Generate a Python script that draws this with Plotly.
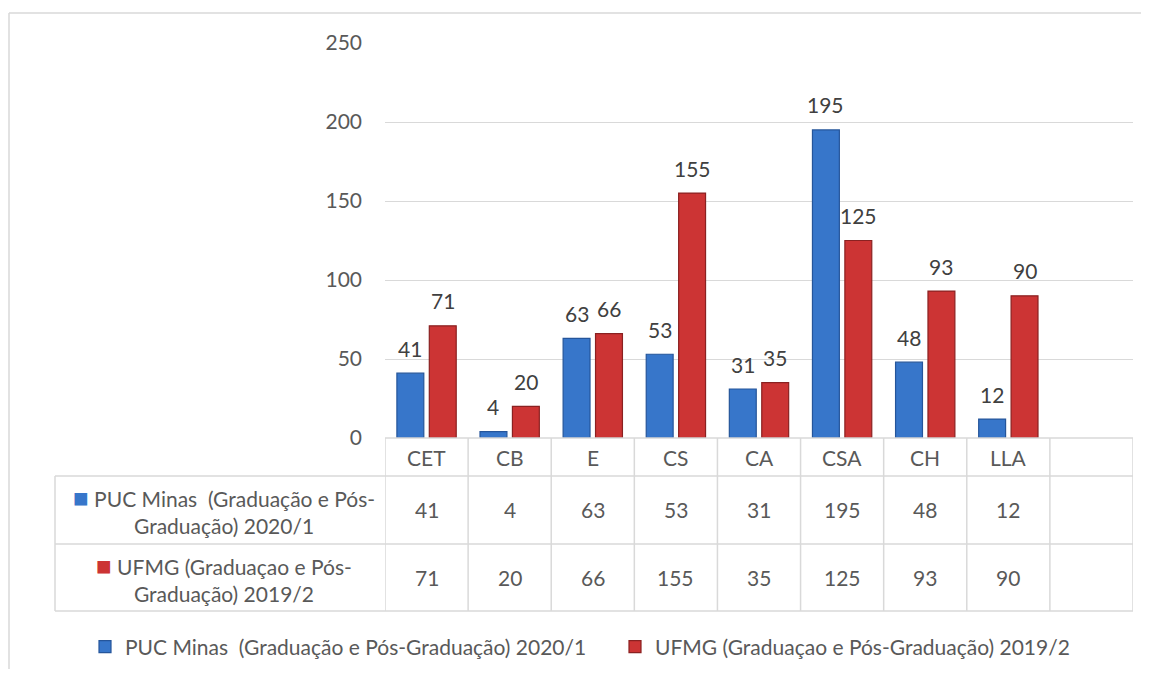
import plotly.graph_objects as go

categories = ["CET", "CB", "E", "CS", "CA", "CSA", "CH", "LLA"]
puc_values = [41, 4, 63, 53, 31, 195, 48, 12]
ufmg_values = [71, 20, 66, 155, 35, 125, 93, 90]
series_names = ["PUC Minas\u00a0 (Graduação e Pós-Graduação) 2020/1",
                "UFMG (Graduaçao e Pós-Graduação) 2019/2"]
table_labels = ["PUC Minas\u00a0 (Graduação e Pós-<br>Graduação) 2020/1",
                "UFMG (Graduaçao e Pós-<br>Graduação) 2019/2"]
y_ticks = [0, 50, 100, 150, 200, 250]

# page has an 8px body margin: figure is sized to fit the window exactly
OFF = 8
W, H = 1149 - 2 * OFF, 677 - 2 * OFF
L = 385 - OFF
T = 43 - OFF
PW = 748
PH = 395
R = W - L - PW
B = H - T - PH
NSLOT = len(categories) + 1

def px_x(p):
    return (p - OFF - L) / PW

def px_y(p):
    return (T + PH - (p - OFF)) / PH

def cx(p):
    return (p - OFF) / W

def cy(p):
    return (H - (p - OFF)) / H

FONT = "Lato, Open Sans, sans-serif"
FS = 21
TXT = "#595959"
GRID = "#D9D9D9"
BLUE = "#3776CA"
BLUE_EDGE = "#25559A"
RED = "#CC3434"
RED_EDGE = "#8A2121"

bargap = 0.22
bargroupgap = 0.17

fig = go.Figure()
xs = list(range(len(categories)))
fig.add_trace(go.Bar(x=xs, y=puc_values, name=series_names[0], legend="legend",
                     marker=dict(color=BLUE, line=dict(color=BLUE_EDGE, width=1.2))))
fig.add_trace(go.Bar(x=xs, y=ufmg_values, name=series_names[1], legend="legend2",
                     marker=dict(color=RED, line=dict(color=RED_EDGE, width=1.2))))

slot = PW / NSLOT
shift = slot * (1 - bargap) / 4
ann = []
for i, (a, b) in enumerate(zip(puc_values, ufmg_values)):
    ann.append(dict(x=i, y=a, xref="x", yref="y", text=str(a), showarrow=False,
                    xshift=-shift, yshift=25, yanchor="middle",
                    font=dict(family=FONT, size=FS, color="#404040")))
    ann.append(dict(x=i, y=b, xref="x", yref="y", text=str(b), showarrow=False,
                    xshift=shift, yshift=25, yanchor="middle",
                    font=dict(family=FONT, size=FS, color="#404040")))
    ann.append(dict(x=i, y=px_y(457), xref="x", yref="paper", text=categories[i],
                    showarrow=False, yanchor="middle",
                    font=dict(family=FONT, size=FS, color=TXT)))
    ann.append(dict(x=i, y=px_y(509), xref="x", yref="paper", text=str(a),
                    showarrow=False, yanchor="middle",
                    font=dict(family=FONT, size=FS, color=TXT)))
    ann.append(dict(x=i, y=px_y(577), xref="x", yref="paper", text=str(b),
                    showarrow=False, yanchor="middle",
                    font=dict(family=FONT, size=FS, color=TXT)))

for lbl, col, yc in [(table_labels[0], BLUE, 509), (table_labels[1], RED, 577)]:
    ann.append(dict(x=px_x(224), y=px_y(yc), xref="paper", yref="paper",
                    text=f'<span style="color:{col};font-size:26px">■</span> {lbl}',
                    showarrow=False, xanchor="center", yanchor="middle", align="center",
                    font=dict(family=FONT, size=FS, color=TXT)))

shapes = []
line = dict(color=GRID, width=1.5)
shapes.append(dict(type="line", xref="paper", yref="paper", x0=0, x1=1,
                   y0=px_y(438), y1=px_y(438), line=line))
for yy in [476, 544, 611]:
    shapes.append(dict(type="line", xref="paper", yref="paper", x0=px_x(55), x1=1,
                       y0=px_y(yy), y1=px_y(yy), line=line))
for k in range(NSLOT + 1):
    shapes.append(dict(type="line", xref="x", yref="paper", x0=k - 0.5, x1=k - 0.5,
                       y0=px_y(438), y1=px_y(611), line=line))
shapes.append(dict(type="line", xref="paper", yref="paper", x0=px_x(55), x1=px_x(55),
                   y0=px_y(476), y1=px_y(611), line=line))
shapes.append(dict(type="line", xref="paper", yref="paper", x0=px_x(9), x1=px_x(1160),
                   y0=px_y(13), y1=px_y(13), line=line))
shapes.append(dict(type="line", xref="paper", yref="paper", x0=px_x(9), x1=px_x(9),
                   y0=px_y(13), y1=px_y(700), line=line))

leg_common = dict(orientation="h", xref="container", yref="container",
                  xanchor="left", yanchor="middle", y=cy(647),
                  font=dict(family=FONT, size=FS, color=TXT),
                  bgcolor="rgba(0,0,0,0)", itemwidth=30)

fig.update_layout(
    width=W, height=H,
    margin=dict(l=L, r=R, t=T, b=B, pad=0),
    paper_bgcolor="white", plot_bgcolor="white",
    barmode="group", bargap=bargap, bargroupgap=bargroupgap,
    font=dict(family=FONT, size=FS, color=TXT),
    xaxis=dict(range=[-0.5, NSLOT - 0.5], showticklabels=False, showgrid=False,
               zeroline=False, showline=False, ticks=""),
    yaxis=dict(range=[0, 250], tickvals=y_ticks, showgrid=True, gridcolor=GRID,
               gridwidth=1.2, zeroline=False, showline=False, ticks="",
               ticklabelstandoff=22, tickfont=dict(family=FONT, size=FS, color=TXT)),
    showlegend=True,
    legend=dict(x=cx(85), **leg_common),
    legend2=dict(x=cx(615), **leg_common),
    annotations=ann, shapes=shapes,
)

fig.write_html("out.html")
